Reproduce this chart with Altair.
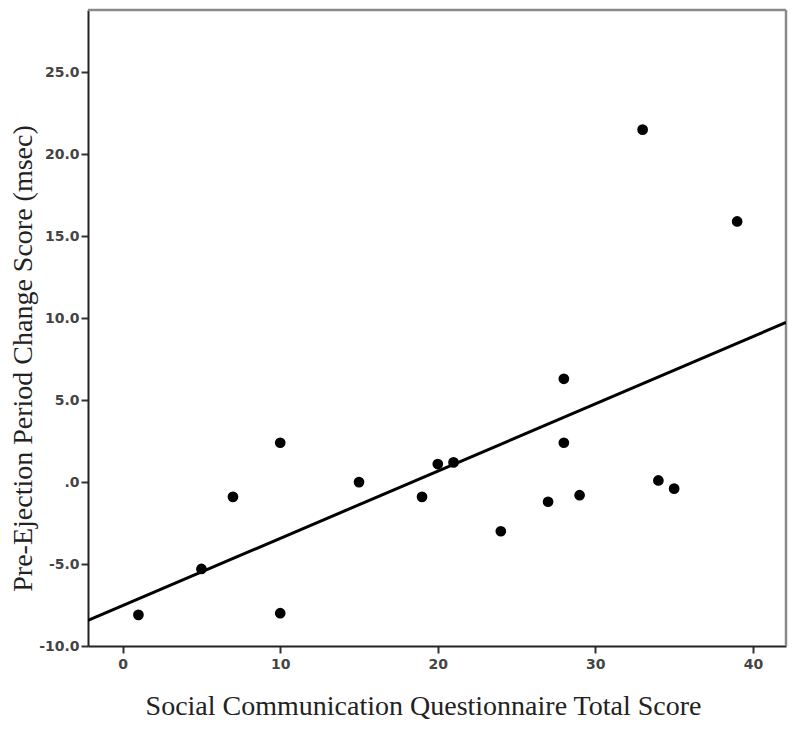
import altair as alt
import pandas as pd

scq_total = [1, 5, 7, 10, 10, 15, 19, 20, 21, 24, 27, 28, 28, 29, 33, 34, 35, 39]
pep_change = [-8.1, -5.3, -0.9, 2.4, -8.0, 0.0, -0.9, 1.1, 1.2, -3.0, -1.2, 6.3, 2.4, -0.8, 21.5, 0.1, -0.4, 15.9]

x_ticks = [0, 10, 20, 30, 40]
y_ticks = [-10, -5, 0, 5, 10, 15, 20, 25]

df = pd.DataFrame({"x": scq_total, "y": pep_change})

x_dom = [-2.2, 42.1]
y_dom = [-10, 28.8]
W, H = 698, 636

xscale = alt.Scale(domain=x_dom, nice=False, zero=False)
yscale = alt.Scale(domain=y_dom, nice=False, zero=False)

xaxis = alt.Axis(
    values=x_ticks, title="Social Communication Questionnaire Total Score",
    grid=False, tickSize=7, tickWidth=2, tickColor="#333", domainColor="#222", domainWidth=2,
    labelFont="DejaVu Sans", labelFontSize=14, labelColor="#444", labelFontWeight="bold",
    labelPadding=4, titleFont="Liberation Serif", titleFontSize=28, titleFontWeight="normal",
    titleColor="#222", titleX=335, titleY=60, titleAlign="center", titleBaseline="middle",
)
yaxis = alt.Axis(
    values=y_ticks, title="Pre-Ejection Period Change Score (msec)",
    labelExpr="datum.value == 0 ? '.0' : replace(format(datum.value, '.1f'), '\u2212', '-')",
    grid=False, tickSize=7, tickWidth=2, tickColor="#333", domainColor="#222", domainWidth=2,
    labelFont="DejaVu Sans", labelFontSize=14, labelColor="#444", labelFontWeight="bold",
    labelPadding=2, titleFont="Liberation Serif", titleFontSize=28, titleFontWeight="normal",
    titleColor="#222", titleX=-65, titleY=348, titleAlign="center", titleBaseline="middle",
    titleAngle=270,
)

base = alt.Chart(df)

points = base.mark_circle(size=115, color="black", opacity=1).encode(
    x=alt.X("x:Q", scale=xscale, axis=xaxis),
    y=alt.Y("y:Q", scale=yscale, axis=yaxis),
)

line = base.transform_regression("x", "y", extent=x_dom).mark_line(
    color="black", strokeWidth=3, clip=True
).encode(
    x=alt.X("x:Q", scale=xscale),
    y=alt.Y("y:Q", scale=yscale),
)

frame_top = alt.Chart(pd.DataFrame({"a": [0]})).mark_rule(color="#8a8a8a", strokeWidth=2.5).encode(
    x=alt.value(0), x2=alt.value(W), y=alt.value(0)
)
frame_right = alt.Chart(pd.DataFrame({"a": [0]})).mark_rule(color="#8a8a8a", strokeWidth=2.5).encode(
    x=alt.value(W), y=alt.value(0), y2=alt.value(H)
)

chart = (frame_top + frame_right + line + points).properties(
    width=W, height=H,
    autosize=alt.AutoSizeParams(type="none"),
    padding={"left": 80, "top": 2, "right": 6, "bottom": 77},
).configure_view(stroke=None).configure(background="white")

chart.save("out.html", embed_options={"renderer": "svg", "actions": False})
